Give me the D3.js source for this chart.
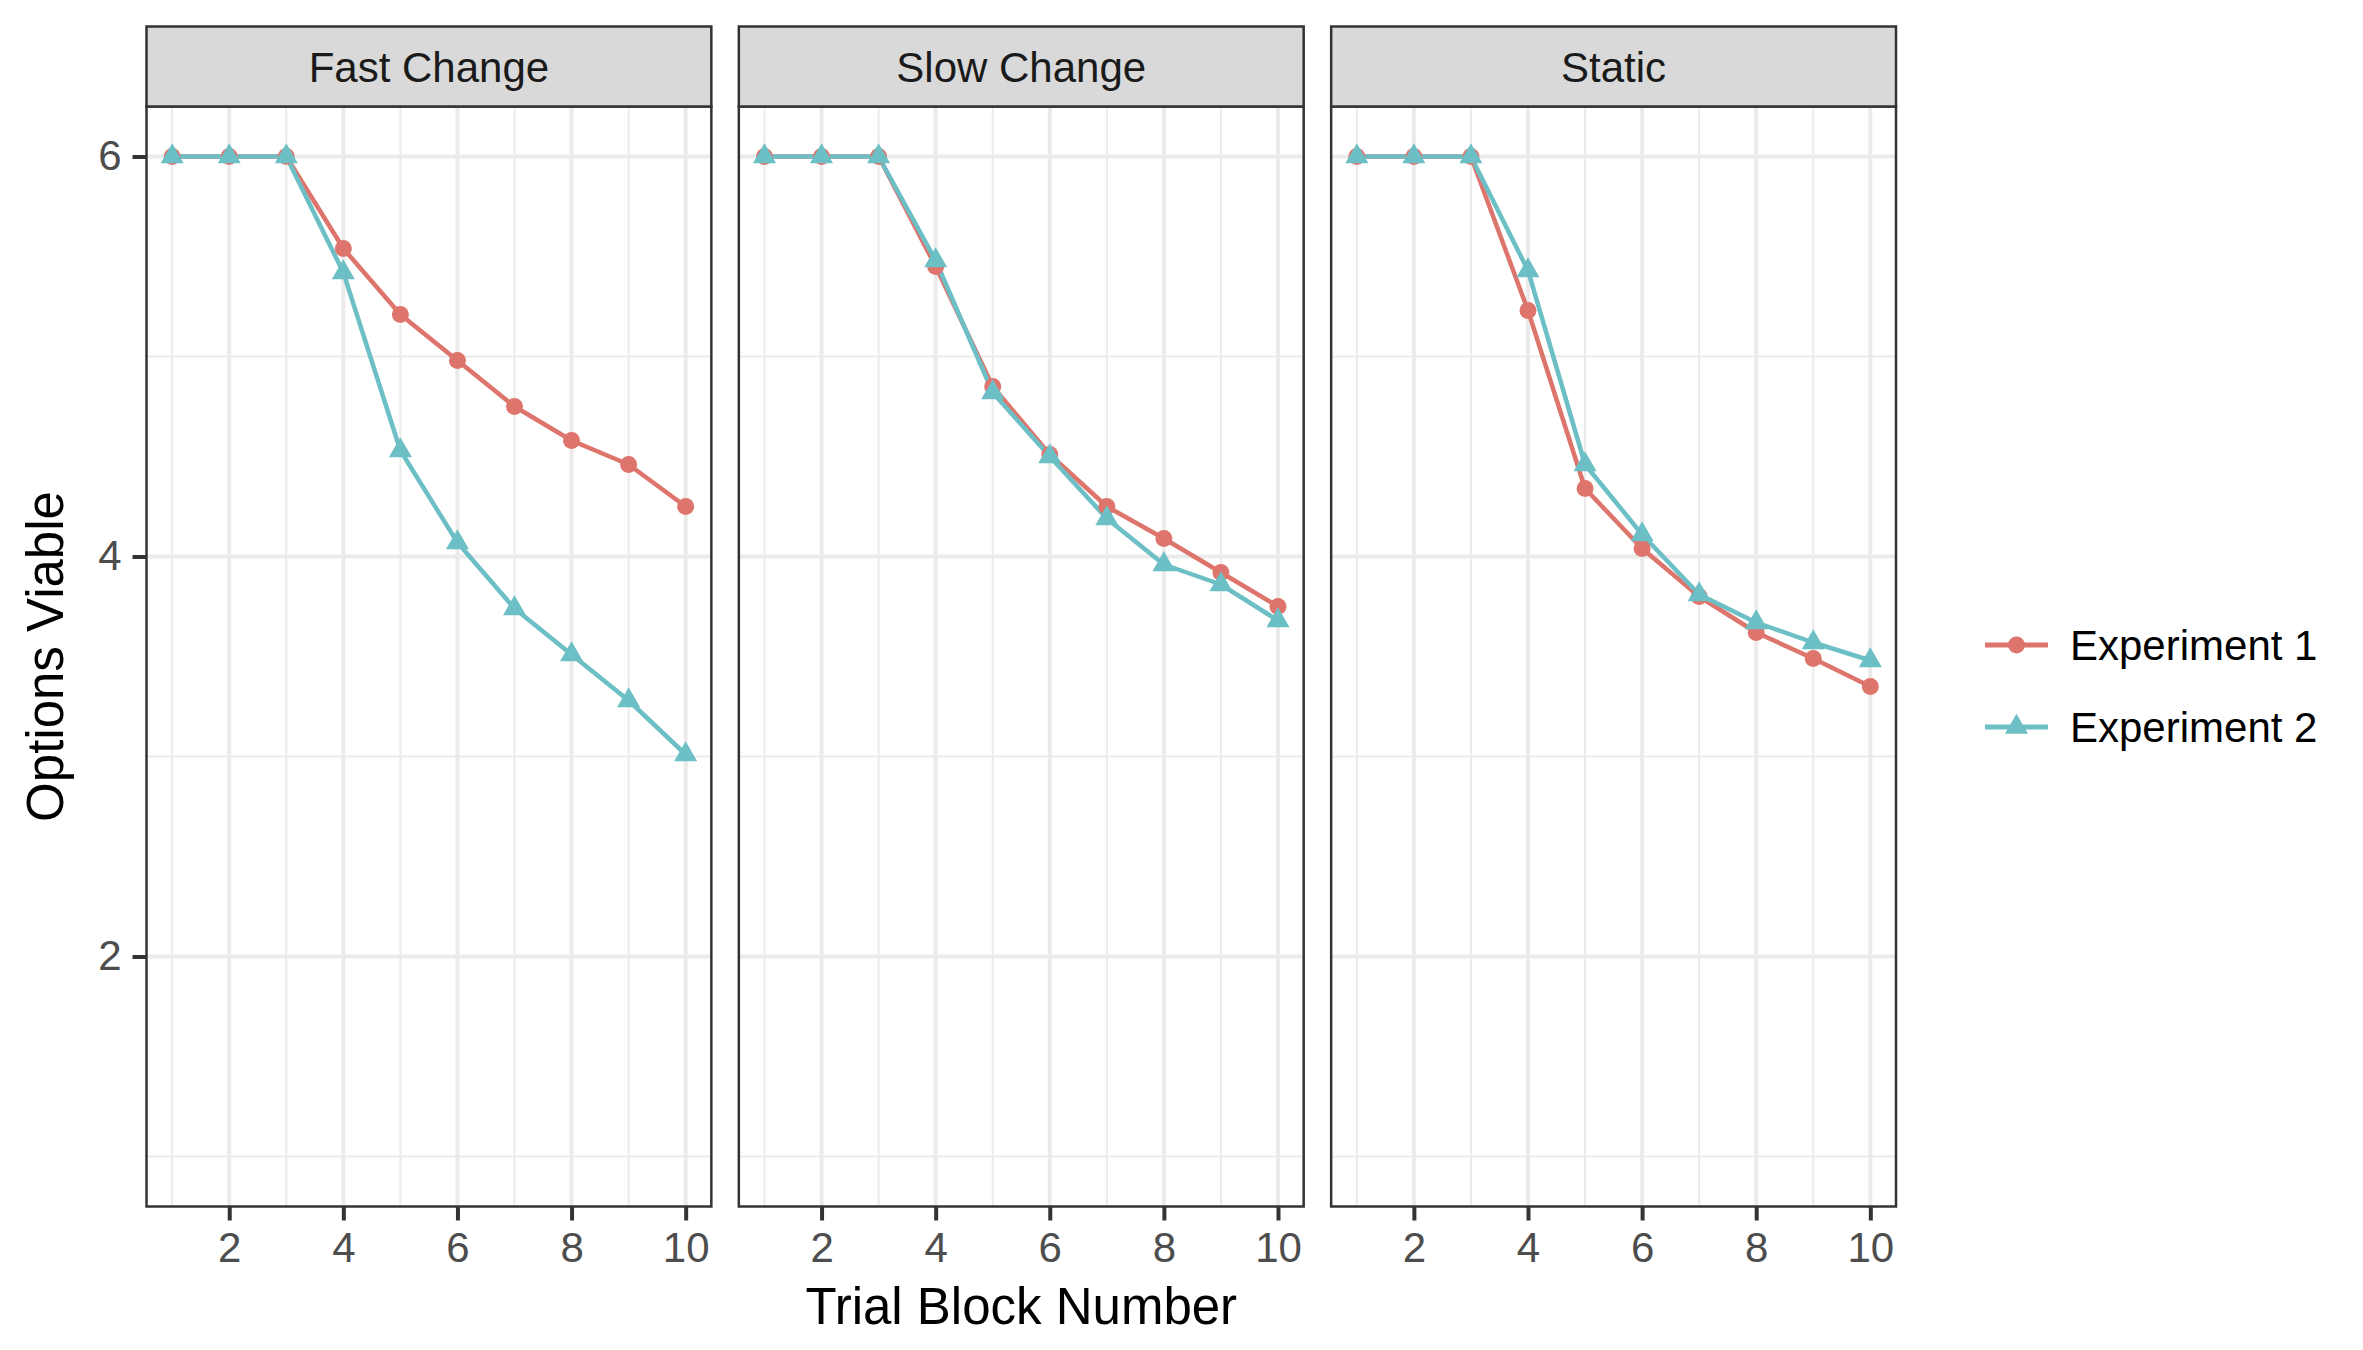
<!DOCTYPE html>
<html>
<head>
<meta charset="utf-8">
<script src="https://cdn.jsdelivr.net/npm/d3@7"></script>
<style>
  html, body { margin: 0; padding: 0; background: #fff; overflow: hidden; }
  svg { display: block; }
  text { font-family: "Liberation Sans", Arial, sans-serif; }
</style>
</head>
<body>
<div id="viz1"></div>
<script>
// data
const blocks = [1, 2, 3, 4, 5, 6, 7, 8, 9, 10];
const facets = ["Fast Change", "Slow Change", "Static"];
const experiments = ["Experiment 1", "Experiment 2"];

const fastExp1 = [6, 6, 6, 5.54, 5.21, 4.98, 4.75, 4.58, 4.46, 4.25];
const fastExp2 = [6, 6, 6, 5.42, 4.53, 4.07, 3.74, 3.51, 3.28, 3.01];
const slowExp1 = [6, 6, 6, 5.45, 4.85, 4.51, 4.25, 4.09, 3.92, 3.75];
const slowExp2 = [6, 6, 6, 5.48, 4.82, 4.50, 4.19, 3.96, 3.86, 3.68];
const staticExp1 = [6, 6, 6, 5.23, 4.34, 4.04, 3.80, 3.62, 3.49, 3.35];
const staticExp2 = [6, 6, 6, 5.43, 4.46, 4.11, 3.81, 3.67, 3.57, 3.48];

const xTicks = [2, 4, 6, 8, 10];
const xMinor = [1, 3, 5, 7, 9];
const yTicks = [2, 4, 6];
const yMinor = [1, 3, 5];

// table: one series per facet x experiment
const values = {
    "Fast Change": [fastExp1, fastExp2],
    "Slow Change": [slowExp1, slowExp2],
    "Static": [staticExp1, staticExp2]
};
const series = [];
facets.forEach(f => {
    experiments.forEach((e, i) => {
        series.push({
            facet: f,
            exp: e,
            points: blocks.map((b, j) => ({ x: b, y: values[f][i][j] }))
        });
    });
});

const
    width = 2363, height = 1350,
    margin = { top: 106.5, left: 146.5, right: 467, bottom: 143.5 },
    stripH = 80,
    innerHeight = height - margin.top - margin.bottom;

const colors = d3.scaleOrdinal()
    .domain(experiments)
    .range(["#de756c", "#6cbfc5"]);

// panels
const facetScale = d3.scaleBand()
    .domain(facets)
    .range([margin.left, width - margin.right])
    .paddingInner(0.0464)
    .paddingOuter(0);

const bw = facetScale.bandwidth();

const xScale = d3.scaleLinear().domain([0.55, 10.45]).range([0, bw]);
const yScale = d3.scaleLinear().domain([0.75, 6.25]).range([innerHeight, 0]);

const svg = d3.select("#viz1")
    .append("svg")
    .attr("width", width)
    .attr("height", height)
    .style("background", "#fff");

const line = d3.line()
    .x(d => xScale(d.x))
    .y(d => yScale(d.y));

const tri = d3.symbol().type(d3.symbolTriangle).size(230);

facets.forEach((f, fi) => {
    const g = svg.append("g")
        .attr("transform", `translate(${facetScale(f)},${margin.top})`);

    // grid
    g.selectAll(".ymin").data(yMinor).enter().append("line")
        .attr("x1", 0).attr("x2", bw)
        .attr("y1", d => yScale(d)).attr("y2", d => yScale(d))
        .attr("stroke", "#ebebeb").attr("stroke-width", 2);
    g.selectAll(".xmin").data(xMinor).enter().append("line")
        .attr("y1", 0).attr("y2", innerHeight)
        .attr("x1", d => xScale(d)).attr("x2", d => xScale(d))
        .attr("stroke", "#ebebeb").attr("stroke-width", 2);
    g.selectAll(".ymaj").data(yTicks).enter().append("line")
        .attr("x1", 0).attr("x2", bw)
        .attr("y1", d => yScale(d)).attr("y2", d => yScale(d))
        .attr("stroke", "#ebebeb").attr("stroke-width", 4);
    g.selectAll(".xmaj").data(xTicks).enter().append("line")
        .attr("y1", 0).attr("y2", innerHeight)
        .attr("x1", d => xScale(d)).attr("x2", d => xScale(d))
        .attr("stroke", "#ebebeb").attr("stroke-width", 4);

    const fs = series.filter(s => s.facet === f);

    // lines first, then points
    g.selectAll(".ln").data(fs).enter().append("path")
        .attr("d", d => line(d.points))
        .attr("fill", "none")
        .attr("stroke", d => colors(d.exp))
        .attr("stroke-width", 4.5)
        .attr("stroke-linejoin", "round");

    fs.forEach((s, si) => {
        if (si === 0) {
            g.append("g").selectAll("circle").data(s.points).enter().append("circle")
                .attr("cx", d => xScale(d.x))
                .attr("cy", d => yScale(d.y))
                .attr("r", 8.5)
                .attr("fill", colors(s.exp));
        } else {
            g.append("g").selectAll("path").data(s.points).enter().append("path")
                .attr("d", tri)
                .attr("transform", d => `translate(${xScale(d.x)},${yScale(d.y)})`)
                .attr("fill", colors(s.exp));
        }
    });

    // panel border
    g.append("rect")
        .attr("width", bw).attr("height", innerHeight)
        .attr("fill", "none").attr("stroke", "#333333").attr("stroke-width", 2.5);

    // strip
    g.append("rect")
        .attr("y", -stripH).attr("width", bw).attr("height", stripH)
        .attr("fill", "#d9d9d9").attr("stroke", "#333333").attr("stroke-width", 2.5);
    g.append("text")
        .attr("x", bw / 2).attr("y", -25)
        .attr("text-anchor", "middle")
        .attr("font-size", 42).attr("fill", "#1a1a1a")
        .text(f);

    // x axis
    const xa = g.append("g")
        .attr("transform", `translate(0,${innerHeight})`)
        .call(d3.axisBottom(xScale).tickValues(xTicks).tickFormat(d3.format("d"))
            .tickSize(14).tickPadding(12));
    xa.select(".domain").remove();

    if (fi === 0) {
        const ya = g.append("g")
            .call(d3.axisLeft(yScale).tickValues(yTicks).tickFormat(d3.format("d"))
                .tickSize(14).tickPadding(11));
        ya.select(".domain").remove();
    }
});

svg.selectAll(".tick").each(function () {
    d3.select(this.parentNode)
        .attr("font-size", 42)
        .attr("font-family", "Liberation Sans, Arial, sans-serif");
});
svg.selectAll(".tick line").attr("stroke", "#333333").attr("stroke-width", 4);
svg.selectAll(".tick text").attr("fill", "#4d4d4d");

// axis titles
svg.append("text")
    .attr("x", (margin.left + width - margin.right) / 2)
    .attr("y", 1324)
    .attr("text-anchor", "middle")
    .attr("font-size", 51).attr("fill", "#000")
    .text("Trial Block Number");

svg.append("text")
    .attr("transform", `translate(63,${margin.top + innerHeight / 2}) rotate(-90)`)
    .attr("text-anchor", "middle")
    .attr("font-size", 51).attr("fill", "#000")
    .text("Options Viable");

// legend
const legend = svg.append("g")
    .selectAll("g")
    .data(experiments)
    .enter()
    .append("g")
    .attr("transform", (d, i) => `translate(1985,${645 + i * 82})`);

legend.append("line")
    .attr("x1", 0).attr("x2", 63)
    .attr("stroke", d => colors(d)).attr("stroke-width", 5);

legend.filter((d, i) => i === 0).append("circle")
    .attr("cx", 31.5).attr("r", 8.5).attr("fill", d => colors(d));

legend.filter((d, i) => i === 1).append("path")
    .attr("d", tri).attr("transform", "translate(31.5,0)").attr("fill", d => colors(d));

legend.append("text")
    .attr("x", 85).attr("y", 15)
    .attr("font-size", 42).attr("fill", "#000")
    .text(d => d);
</script>
</body>
</html>
